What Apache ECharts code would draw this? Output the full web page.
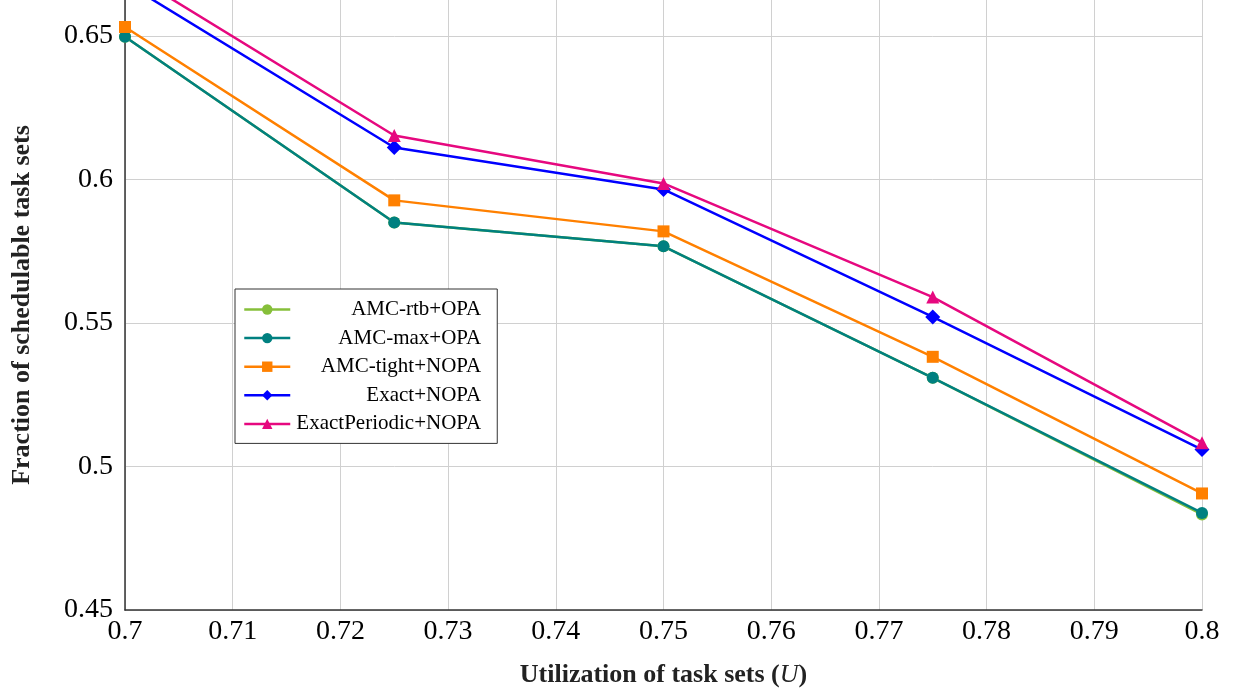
<!DOCTYPE html>
<html><head><meta charset="utf-8">
<script src="https://cdn.jsdelivr.net/npm/echarts@6/dist/echarts.min.js"></script>
<style>html,body{margin:0;padding:0;background:#fff}#c{width:1233px;height:693px}</style>
</head><body><div id="c"></div>
<script>
const xValues = [0.7, 0.725, 0.75, 0.775, 0.8];
const amcRtb = [0.6497, 0.5850, 0.5767, 0.5309, 0.4833];
const amcMax = [0.6497, 0.5850, 0.5767, 0.5309, 0.4838];
const amcTight = [0.6531, 0.5927, 0.5819, 0.5382, 0.4906];
const exact = [0.6685, 0.6111, 0.5965, 0.5521, 0.5059];
const exactPeriodic = [0.6728, 0.6153, 0.5986, 0.5590, 0.5083];
const xTicks = [0.7, 0.71, 0.72, 0.73, 0.74, 0.75, 0.76, 0.77, 0.78, 0.79, 0.8];
const yTicks = [0.45, 0.5, 0.55, 0.6, 0.65];

const serif = '"Liberation Serif", "DejaVu Serif", serif';
function mk(name, vals, color, symbol, size) {
  return {
    name, type: 'line', data: xValues.map((x, i) => [x, vals[i]]),
    symbol, symbolSize: size, clip: true,
    lineStyle: { color, width: 2.5 }, itemStyle: { color },
    emphasis: { disabled: true }
  };
}
const chart = echarts.init(document.getElementById('c'));
chart.setOption({
  animation: false,
  grid: { left: 125, right: 31, top: 0, bottom: 81, containLabel: false },
  legend: {
    orient: 'vertical', left: 235, top: 289,
    padding: [10, 16, 9, 8],
    itemGap: 7.6, itemWidth: 46, itemHeight: 13,
    borderColor: '#333', borderWidth: 1, borderRadius: 0, backgroundColor: '#fff',
    lineStyle: { width: 2.5 },
    formatter: n => '{a|' + n + '}',
    textStyle: { fontFamily: serif, fontSize: 21, color: '#000',
      rich: { a: { width: 186, align: 'right', lineHeight: 22, fontFamily: serif, fontSize: 21, color: '#000' } } },
    data: ['AMC-rtb+OPA', 'AMC-max+OPA', 'AMC-tight+NOPA', 'Exact+NOPA', 'ExactPeriodic+NOPA']
  },
  xAxis: {
    type: 'value', min: 0.7, max: 0.8, interval: 0.01,
    name: '{b|Utilization of task sets (}{i|U}{b|)}', nameLocation: 'middle', nameGap: 52,
    nameTextStyle: { rich: {
      b: { fontFamily: serif, fontSize: 26, fontWeight: 'bold', color: '#222' },
      i: { fontFamily: serif, fontSize: 26, fontStyle: 'italic', color: '#222' } } },
    axisLine: { show: true, onZero: false, lineStyle: { color: '#333', width: 1.5 } },
    axisTick: { show: false },
    axisLabel: { fontFamily: serif, fontSize: 28, color: '#000', margin: 8,
      formatter: v => { const t = xTicks.find(a => Math.abs(a - v) < 1e-9); return t === undefined ? '' : String(t); } },
    splitLine: { show: true, lineStyle: { color: '#d0d0d0', width: 1 } }
  },
  yAxis: {
    type: 'value', min: 0.45, max: 0.6625, interval: 0.05,
    name: 'Fraction of schedulable task sets', nameLocation: 'middle', nameGap: 90,
    nameTextStyle: { fontFamily: serif, fontSize: 26, fontWeight: 'bold', color: '#222' },
    axisLine: { show: true, onZero: false, lineStyle: { color: '#333', width: 1.5 } },
    axisTick: { show: false },
    axisLabel: { fontFamily: serif, fontSize: 28, color: '#000', margin: 12, showMaxLabel: false,
      formatter: v => { const t = yTicks.find(a => Math.abs(a - v) < 1e-9); return t === undefined ? '' : String(t); } },
    splitLine: { show: true, showMaxLine: false, lineStyle: { color: '#d0d0d0', width: 1 } }
  },
  series: [
    mk('AMC-rtb+OPA', amcRtb, '#86bf3a', 'circle', 12),
    mk('AMC-max+OPA', amcMax, '#008080', 'circle', 12),
    mk('AMC-tight+NOPA', amcTight, '#ff8000', 'rect', 12),
    mk('Exact+NOPA', exact, '#0000ff', 'diamond', 15),
    mk('ExactPeriodic+NOPA', exactPeriodic, '#e6087f', 'triangle', 13)
  ]
});
</script></body></html>
